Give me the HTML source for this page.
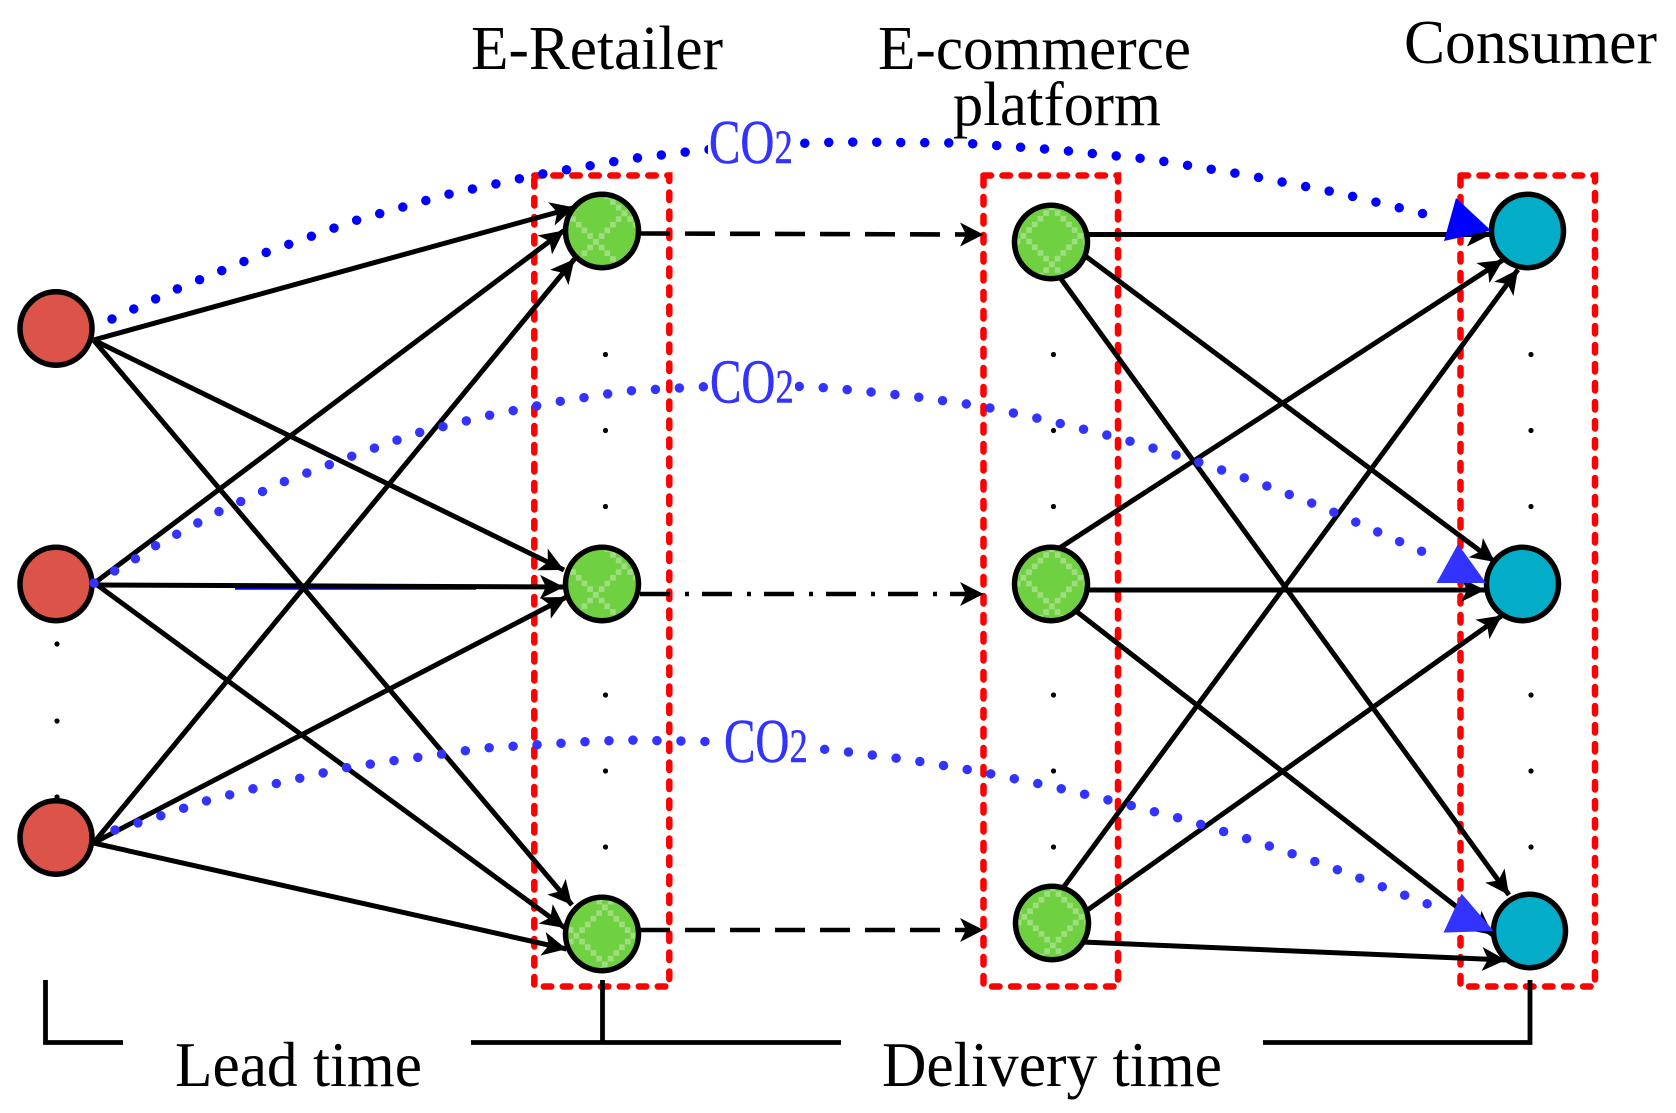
<!DOCTYPE html>
<html><head><meta charset="utf-8"><title>Supply chain network</title>
<style>html,body{margin:0;padding:0;background:#fff}svg{display:block}
text{font-family:"Liberation Serif",serif;fill:#000}
.co{fill:#3333ff;stroke:#3333ff;stroke-width:.5}
.k line{stroke:#000;stroke-width:5;marker-end:url(#a)}
.n{stroke:#000;stroke-width:5.5}
.b rect{fill:none;stroke:#f00;stroke-width:6.5;stroke-dasharray:7.500 11.500;stroke-linecap:round}
.d circle{fill:#000}
.dot{fill:none;stroke-width:9.500;stroke-linecap:round;stroke-dasharray:0 24}
</style></head><body>
<svg width="1676" height="1113" viewBox="0 0 1676 1113" xmlns="http://www.w3.org/2000/svg">
<defs>
<marker id="a" markerUnits="userSpaceOnUse" markerWidth="26" markerHeight="26" refX="24" refY="12" orient="auto" viewBox="0 0 26 24"><path d="M0 0L24 12L0 24L6 12Z" fill="#000"/></marker>
<pattern id="p1" patternUnits="userSpaceOnUse" width="57" height="57" patternTransform="translate(-9 8)"><rect width="57" height="57" fill="#6fd041"/><path fill="#9ede7e" d="M0 0h5.7v5.7h-5.7zM5.7 5.7h5.7v5.7h-5.7zM11.4 11.4h5.7v5.7h-5.7zM17.1 17.1h5.7v5.7h-5.7zM22.8 22.8h5.7v5.7h-5.7zM28.5 28.5h5.7v5.7h-5.7zM34.2 34.2h5.7v5.7h-5.7zM39.9 39.9h5.7v5.7h-5.7zM45.6 45.6h5.7v5.7h-5.7zM51.3 51.3h5.7v5.7h-5.7zM5.7 51.3h5.7v5.7h-5.7zM11.4 45.6h5.7v5.7h-5.7zM17.1 39.9h5.7v5.7h-5.7zM22.8 34.2h5.7v5.7h-5.7zM34.2 22.8h5.7v5.7h-5.7zM39.9 17.1h5.7v5.7h-5.7zM45.6 11.4h5.7v5.7h-5.7zM51.3 5.7h5.7v5.7h-5.7z"/></pattern>
<pattern id="p2" href="#p1" patternTransform="translate(-30.5 -9)"/>
<pattern id="p3" href="#p1" patternTransform="translate(-28.5 -1)"/>
</defs>
<rect width="1676" height="1113" fill="#fff"/>

<!-- red dashed boxes -->
<g class="b">
<rect x="534.300" y="175.500" width="135" height="811"/>
<rect x="983.500" y="175.500" width="134.500" height="811"/>
<rect x="1460.500" y="175.500" width="134.500" height="811"/>
</g>

<!-- small ellipsis dots -->
<g class="d">
<circle cx="57" cy="644" r="2.600"/><circle cx="57" cy="721" r="2.600"/><circle cx="57" cy="797" r="2.600"/>
<circle cx="605.500" cy="354.500" r="2.600"/><circle cx="605.500" cy="430.500" r="2.600"/><circle cx="605.500" cy="506.500" r="2.600"/>
<circle cx="605.500" cy="695" r="2.600"/><circle cx="605.500" cy="771" r="2.600"/><circle cx="605.500" cy="847" r="2.600"/>
<circle cx="1053.500" cy="354.500" r="2.600"/><circle cx="1053.500" cy="430.500" r="2.600"/><circle cx="1053.500" cy="506.500" r="2.600"/>
<circle cx="1053.500" cy="695" r="2.600"/><circle cx="1053.500" cy="771" r="2.600"/><circle cx="1053.500" cy="847" r="2.600"/>
<circle cx="1531" cy="354.500" r="2.600"/><circle cx="1531" cy="430.500" r="2.600"/><circle cx="1531" cy="506.500" r="2.600"/>
<circle cx="1531" cy="695" r="2.600"/><circle cx="1531" cy="771" r="2.600"/><circle cx="1531" cy="847" r="2.600"/>
</g>

<!-- solid arrows -->
<line x1="235" y1="588" x2="476" y2="588" stroke="#0000ff" stroke-width="3.500"/>
<g class="k">
<line x1="93.500" y1="340" x2="574.500" y2="207.500"/>
<line x1="93.500" y1="340" x2="564" y2="570"/>
<line x1="93.500" y1="340" x2="572" y2="905"/>
<line x1="94.500" y1="583" x2="564" y2="230.500"/>
<line x1="94.500" y1="585" x2="564" y2="587"/>
<line x1="94.500" y1="583" x2="565" y2="928"/>
<line x1="93.500" y1="843" x2="574.500" y2="259"/>
<line x1="93.500" y1="843" x2="566.500" y2="597"/>
<line x1="93.500" y1="843" x2="566.500" y2="949"/>
<line x1="1085" y1="234.500" x2="1491" y2="234.500"/>
<line x1="1080" y1="252" x2="1495" y2="562"/>
<line x1="1056" y1="272" x2="1509" y2="895"/>
<line x1="1058" y1="549" x2="1503" y2="260"/>
<line x1="1085" y1="590" x2="1485" y2="590"/>
<line x1="1072" y1="608" x2="1493" y2="935"/>
<line x1="1060" y1="892" x2="1518" y2="269.500"/>
<line x1="1082" y1="914" x2="1502" y2="615.500"/>
<line x1="1082" y1="942" x2="1506" y2="960"/>
</g>

<!-- dashed middle arrows -->
<g fill="none" stroke="#000" stroke-width="4.600">
<line x1="640" y1="233.500" x2="972" y2="234.500" stroke-dasharray="30 15"/>
<line x1="640" y1="594" x2="972" y2="594" stroke-dasharray="30 15 4 13"/>
<line x1="640" y1="930" x2="972" y2="930" stroke-dasharray="30 15"/>
</g>
<g fill="#000">
<path d="M960 222.500L983.500 234.500L960 246.500L966 234.500Z"/>
<path d="M960 582L983.500 594L960 606L966 594Z"/>
<path d="M960 918L983.500 930L960 942L966 930Z"/>
</g>

<!-- nodes -->
<g class="n">
<ellipse cx="56" cy="328.500" rx="36" ry="36.700" fill="#dc5349"/>
<ellipse cx="56" cy="584" rx="36" ry="36.700" fill="#dc5349"/>
<ellipse cx="56" cy="837.500" rx="36" ry="36.700" fill="#dc5349"/>
<g transform="translate(602 231)"><ellipse rx="36.500" ry="36.700" fill="url(#p1)"/></g>
<g transform="translate(602 584)"><ellipse rx="36.500" ry="36.700" fill="url(#p1)"/></g>
<g transform="translate(602 934)"><ellipse rx="36.500" ry="36.700" fill="url(#p3)"/></g>
<g transform="translate(1051 242)"><ellipse rx="36.500" ry="36.700" fill="url(#p2)"/></g>
<g transform="translate(1051 584)"><ellipse rx="36.500" ry="36.700" fill="url(#p2)"/></g>
<g transform="translate(1052 923)"><ellipse rx="36.500" ry="36.700" fill="url(#p2)"/></g>
<ellipse cx="1527.500" cy="231" rx="36" ry="36.700" fill="#03adc8"/>
<ellipse cx="1522.500" cy="584" rx="36" ry="36.700" fill="#03adc8"/>
<ellipse cx="1529.500" cy="931" rx="36" ry="36.700" fill="#03adc8"/>
</g>

<!-- CO2 dotted curves -->
<polyline class="dot" stroke="#0000ff" points="112,319 177,289 264.500,253 354,221 445,195 539,174.500 632,158.500 703,150 766,145 821,142.500 844,142 963,143 1058,150 1153,159.600 1246,175 1339,193 1431,215.600"/>
<polyline class="dot" stroke="#3333ff" points="94,583 135,559 155,546 218,512 283,482 349.500,457 417,433 486,416 556,402 626,391 697,387 760,385 815,387 841,389 910,396 981,406 1050,421 1119,438 1188,458.500 1255,481.500 1322,507 1387,536 1430,555"/>
<polyline class="dot" stroke="#3333ff" points="115,830 160,816 206,801 252,789 298,778.700 344,768 391,761 438,754.600 485,748 533,745 580,742 627,740 674.500,741 698,741 760,745 816.600,748.500 841,751 911,760 982,772 1052,786.500 1121,803 1190,821 1257.500,842 1325,865 1391,890 1435.500,907"/>
<polygon points="1456,198 1491,230.500 1444,241" fill="#0000ff"/>
<polygon points="1458,544 1486,583 1436.500,583" fill="#3333ff"/>
<polygon points="1461.600,893.600 1493.700,931 1443.500,932.600" fill="#3333ff"/>

<!-- brackets -->
<g fill="none" stroke="#000" stroke-width="4.800">
<polyline points="45.500,980 45.500,1042.500 123,1042.500"/>
<line x1="471" y1="1042.500" x2="841" y2="1042.500"/>
<line x1="602.500" y1="980" x2="602.500" y2="1042.500"/>
<polyline points="1263,1042.500 1530,1042.500 1530,980"/>
</g>

<!-- labels -->
<g font-size="62">
<text x="471" y="69" textLength="252" lengthAdjust="spacingAndGlyphs">E-Retailer</text>
<text x="878" y="69" textLength="313" lengthAdjust="spacingAndGlyphs">E-commerce</text>
<text x="953" y="125" textLength="208" lengthAdjust="spacingAndGlyphs">platform</text>
<text x="1404" y="63" textLength="253" lengthAdjust="spacingAndGlyphs">Consumer</text>
<text x="175" y="1086" font-size="63" textLength="247" lengthAdjust="spacingAndGlyphs">Lead time</text>
<text x="882" y="1086" font-size="63" textLength="340" lengthAdjust="spacingAndGlyphs">Delivery time</text>
</g>
<rect x="708" y="118" width="87" height="48" fill="#fff"/>
<rect x="708" y="360" width="87" height="46" fill="#fff"/>
<rect x="722" y="718" width="87" height="47" fill="#fff"/>
<text class="co" transform="translate(709 163) scale(.76 1)" font-size="62">CO<tspan font-size="48">2</tspan></text>
<text class="co" transform="translate(710 402.500) scale(.76 1)" font-size="62">CO<tspan font-size="48">2</tspan></text>
<text class="co" transform="translate(724 762) scale(.76 1)" font-size="62">CO<tspan font-size="48">2</tspan></text>
</svg>
</body></html>
